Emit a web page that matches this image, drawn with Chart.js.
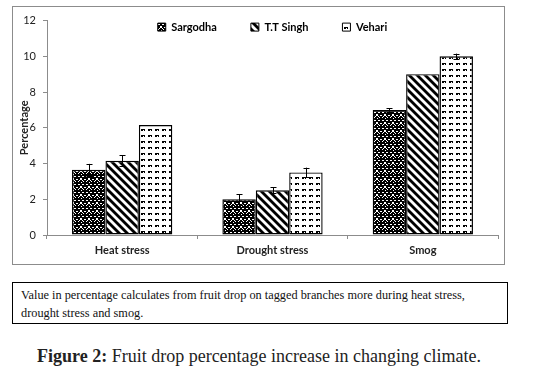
<!DOCTYPE html>
<html>
<head>
<meta charset="utf-8">
<script src="https://cdn.jsdelivr.net/npm/chart.js@4.4.1/dist/chart.umd.min.js"></script>
<style>
  html, body { margin: 0; padding: 0; background: #fff; }
  body { width: 548px; height: 375px; position: relative; overflow: hidden; }
  #frame { position: absolute; left: 12px; top: 6px; width: 491px; height: 257px; border: 1px solid #8c8c8c; }
  #wrap { position: absolute; left: 13px; top: 7px; width: 491px; height: 257px; }
  #note { position: absolute; left: 12px; top: 282px; width: 494px; height: 40px; border: 1px solid #000;
          font-family: "Liberation Serif", "Times New Roman", serif; font-size: 12.3px; line-height: 17.5px; color: #111; }
  #note div { padding: 4px 0 0 8px; }
  #fig { position: absolute; left: 0; top: 346px; width: 518px; text-align: center;
         font-family: "Liberation Serif", "Times New Roman", serif; font-size: 18px; color: #222; }
</style>
</head>
<body>
<div id="frame"></div>
<div id="wrap"><canvas id="c" width="491" height="257"></canvas></div>
<div id="note"><div>Value in percentage calculates from fruit drop on tagged branches more during heat stress,<br>drought stress and smog.</div></div>
<div id="fig"><b>Figure 2:</b> Fruit drop percentage increase in changing climate.</div>
<script>
const categories = ["Heat stress", "Drought stress", "Smog"];
const seriesNames = ["Sargodha", "T.T Singh", "Vehari"];
const sargodha = [3.65, 2.0, 7.0];
const ttSingh = [4.15, 2.5, 9.0];
const vehari = [6.15, 3.5, 10.0];
const sargodhaErr = [0.33, 0.28, 0.1];
const ttSinghErr = [0.3, 0.17, 0];
const vehariErr = [0, 0.27, 0.15];
const yTicks = [0, 2, 4, 6, 8, 10, 12];

function makePattern(kind) {
  const t = document.createElement('canvas');
  const g = t.getContext('2d');
  if (kind === 'dots') {
    t.width = 8; t.height = 8;
    g.fillStyle = '#000'; g.fillRect(0, 0, 8, 8);
    g.fillStyle = '#fff';
    g.fillRect(1, 1, 2, 1); g.fillRect(5, 1, 2, 1);
    g.fillRect(3, 3, 2, 2);
    g.fillRect(0, 4, 1, 1); g.fillRect(7, 4, 1, 1);
    g.fillRect(1, 6, 1, 1); g.fillRect(6, 6, 1, 1);
    g.fillRect(4, 7, 1, 1); g.fillRect(2, 5, 1, 1); g.fillRect(5, 5, 1, 1);
  } else if (kind === 'diag') {
    t.width = 8; t.height = 8;
    g.fillStyle = '#fff'; g.fillRect(0, 0, 8, 8);
    g.strokeStyle = '#000'; g.lineWidth = 2.8;
    for (let o = -8; o <= 8; o += 8) {
      g.beginPath(); g.moveTo(o - 1, -1); g.lineTo(o + 9, 9); g.stroke();
    }
  } else {
    t.width = 7; t.height = 6;
    g.fillStyle = '#fff'; g.fillRect(0, 0, 7, 6);
    g.fillStyle = '#000';
    g.fillRect(2, 2, 4, 1); g.fillRect(2, 3, 2, 1); g.fillRect(5, 3, 1, 1);
  }
  return g.createPattern(t, 'repeat');
}

const ctx = document.getElementById('c').getContext('2d');
const patterns = [makePattern('dots'), makePattern('diag'), makePattern('dash')];
const values = [sargodha, ttSingh, vehari];
const errors = [sargodhaErr, ttSinghErr, vehariErr];

const errorBars = {
  id: 'errorBars',
  afterDatasetsDraw(chart) {
    const c = chart.ctx;
    const ys = chart.scales.y;
    c.save();
    c.strokeStyle = '#000';
    c.lineWidth = 1;
    chart.data.datasets.forEach((ds, di) => {
      const meta = chart.getDatasetMeta(di);
      meta.data.forEach((bar, i) => {
        const e = errors[di][i];
        if (!e) return;
        const v = ds.data[i];
        const yTop = ys.getPixelForValue(v + e);
        const yBot = ys.getPixelForValue(v - e);
        const x = Math.round(bar.x) + 0.5;
        c.beginPath();
        c.moveTo(x, yTop); c.lineTo(x, yBot);
        c.moveTo(x - 3, Math.round(yTop) + 0.5); c.lineTo(x + 3, Math.round(yTop) + 0.5);
        c.moveTo(x - 3, Math.round(yBot) + 0.5); c.lineTo(x + 3, Math.round(yBot) + 0.5);
        c.stroke();
      });
    });
    c.restore();
  }
};

// place the legend row inside the top of the plot area, as in the original
const legendInPlot = {
  id: 'legendInPlot',
  afterLayout(chart) {
    const l = chart.legend;
    const h = l.height;
    l.top = chart.chartArea.top;
    l.bottom = l.top + h;
  }
};

const gap = '\u2003\u2003\u2003\u2003';
new Chart(ctx, {
  type: 'bar',
  data: {
    labels: categories,
    datasets: seriesNames.map((name, i) => ({
      label: name,
      data: values[i],
      backgroundColor: patterns[i],
      borderColor: '#000',
      borderWidth: 1.4,
      borderSkipped: false,
      categoryPercentage: 0.667,
      barPercentage: 1.0
    }))
  },
  options: {
    responsive: false,
    animation: false,
    devicePixelRatio: 1,
    layout: { padding: { left: 0, right: 6, top: -10, bottom: 0 } },
    plugins: {
      tooltip: { enabled: false },
      legend: {
        position: 'top',
        align: 'center',
        fullSize: false,
        labels: {
          font: { family: 'Lato', size: 11, weight: 'bold' },
          color: '#222',
          boxWidth: 8,
          boxHeight: 8,
          padding: 1,
          generateLabels(chart) {
            return chart.data.datasets.map((ds, i) => ({
              text: ds.label + (i < 2 ? gap : ''),
              fillStyle: ds.backgroundColor,
              strokeStyle: '#000',
              lineWidth: 1,
              hidden: false,
              datasetIndex: i
            }));
          }
        }
      }
    },
    scales: {
      x: {
        grid: { display: true, drawOnChartArea: false, tickLength: 4, color: '#8c8c8c', offset: true },
        border: { display: true, color: '#8c8c8c', width: 1 },
        ticks: { font: { family: 'Lato', size: 11, weight: 'bold' }, color: '#222', padding: 5, maxRotation: 0 },
        afterFit(s) { s.height = 29; }
      },
      y: {
        min: 0, max: 12,
        afterBuildTicks(s) { s.ticks = yTicks.map(v => ({ value: v })); },
        grid: { display: true, drawOnChartArea: false, tickLength: 4, color: '#8c8c8c' },
        border: { display: true, color: '#8c8c8c', width: 1 },
        ticks: { font: { family: 'Lato', size: 11 }, color: '#222', padding: 7 },
        title: { display: true, text: 'Percentage', font: { family: 'Lato', size: 11, weight: 'bold' }, color: '#222', padding: { top: 5, bottom: 2 } },
        afterFit(s) { s.width = 34; }
      }
    }
  },
  plugins: [errorBars, legendInPlot]
});
</script>
</body>
</html>
